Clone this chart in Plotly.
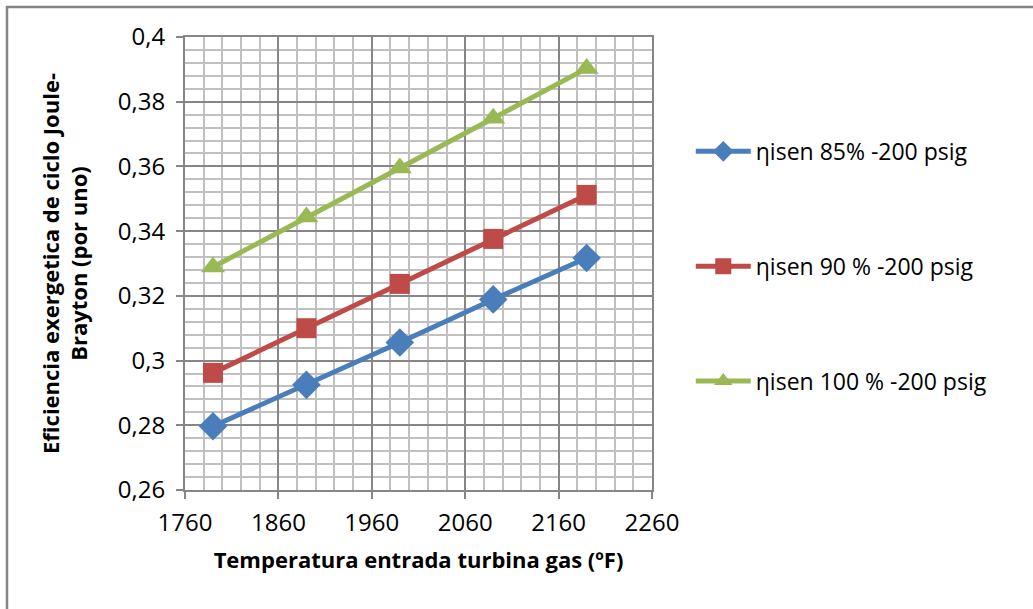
import plotly.graph_objects as go

temps = [1790, 1890, 1990, 2090, 2190]
eta85 = [0.2797, 0.2925, 0.3056, 0.3189, 0.3317]
eta90 = [0.2962, 0.3100, 0.3237, 0.3376, 0.3512]
eta100 = [0.3289, 0.3444, 0.3595, 0.3749, 0.3903]
names = ["ηisen 85% -200 psig", "ηisen 90 % -200 psig", "ηisen 100 % -200 psig"]
colors = ["#4A7EBB", "#BE4B48", "#98B954"]
symbols = ["diamond", "square", "triangle-up"]
sizes = [22, 20, 21]

FONT = "Open Sans"
TICK_FS = 24
LEG_FS = 23
TITLE_FS = 22
L, R, T, B = 185, 652, 37, 490
fig = go.Figure()
for i, ys in enumerate([eta85, eta90, eta100]):
    fig.add_trace(go.Scatter(
        x=temps, y=ys, name=names[i], mode="lines+markers",
        line=dict(color=colors[i], width=5),
        marker=dict(symbol=symbols[i], size=sizes[i], color=colors[i]),
        legendgroup=f"g{i}",
    ))

grid_major = "#868686"
grid_minor = "#C0C0C0"
fig.update_layout(
    width=1033, height=609,
    margin=dict(l=L, r=1033 - R, t=T, b=609 - B),
    paper_bgcolor="white", plot_bgcolor="white",
    separators=",.",
    font=dict(family=FONT, size=TICK_FS, color="#000000"),
    showlegend=True,
    legend=dict(x=1.083, y=0.795, xanchor="left", yanchor="top",
                tracegroupgap=82, itemwidth=55,
                font=dict(family=FONT, size=LEG_FS, color="#000000"),
                bgcolor="rgba(0,0,0,0)"),
    xaxis=dict(range=[1760, 2260], tick0=1760, dtick=100,
               showgrid=True, gridcolor=grid_major, gridwidth=1.5,
               minor=dict(dtick=20, showgrid=True, gridcolor=grid_minor, gridwidth=1.5),
               showline=True, linecolor=grid_major, linewidth=2, mirror=True,
               ticks="outside", ticklen=7, tickcolor=grid_major, tickwidth=1.5,
               ticklabelstandoff=3,
               zeroline=False,
               tickfont=dict(family=FONT, size=TICK_FS),
               title=dict(text="<b>Temperatura entrada turbina gas (ºF)</b>",
                          font=dict(family=FONT, size=TITLE_FS), standoff=16)),
    yaxis=dict(range=[0.26, 0.4], tick0=0.26, dtick=0.02,
               showgrid=True, gridcolor=grid_major, gridwidth=1.5,
               minor=dict(dtick=0.004, showgrid=True, gridcolor=grid_minor, gridwidth=1.5),
               showline=True, linecolor=grid_major, linewidth=2, mirror=True,
               ticks="outside", ticklen=7, tickcolor=grid_major, tickwidth=1.5,
               ticklabelstandoff=6,
               zeroline=False,
               tickfont=dict(family=FONT, size=TICK_FS),
               title=dict(text="<b>Eficiencia exergetica de ciclo Joule-<br>Brayton (por uno)</b>",
                          font=dict(family=FONT, size=TITLE_FS), standoff=24)),
)
fig.add_shape(type="rect", xref="paper", yref="paper",
              x0=(7 - L) / (R - L), x1=1.9, y0=-0.4, y1=(B - 7) / (B - T),
              line=dict(color="#868686", width=2.5), layer="below")
fig.write_html("out.html")
